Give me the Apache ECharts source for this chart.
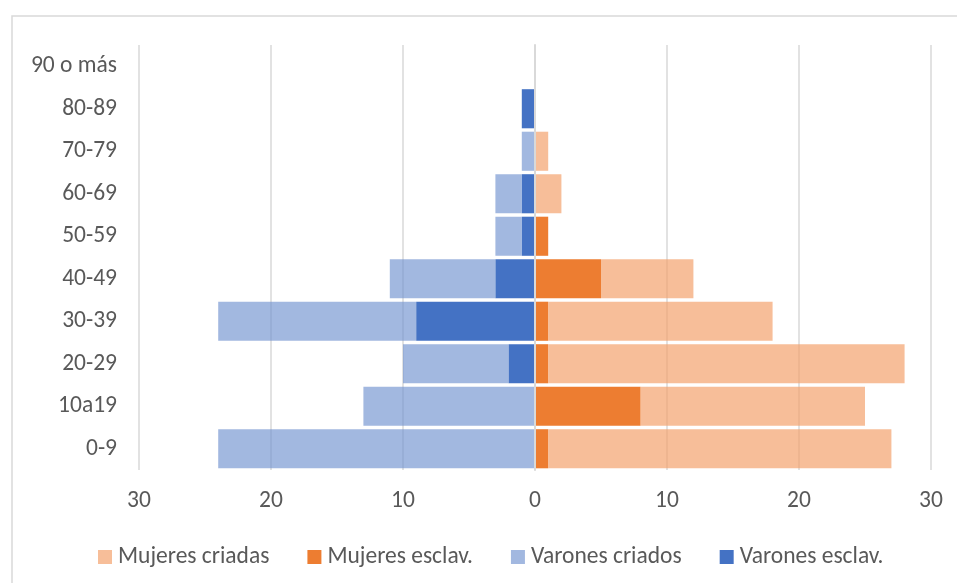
<!DOCTYPE html>
<html>
<head>
<meta charset="utf-8">
<title>Pirámide de edades</title>
<script src="https://cdn.jsdelivr.net/npm/echarts@6/dist/echarts.min.js"></script>
<style>
  html, body { margin: 0; padding: 0; background: #fff; }
  #chart { width: 957px; height: 583px; }
</style>
</head>
<body>
<div id="chart"></div>
<script>
// Age groups, bottom to top
const ageGroups = ['0-9', '10a19', '20-29', '30-39', '40-49', '50-59', '60-69', '70-79', '80-89', '90 o más'];

// Women (drawn to the right)
const mujeresEsclav  = [1, 8, 1, 1, 5, 1, 0, 0, 0, 0];
const mujeresCriadas = [26, 17, 27, 17, 7, 0, 2, 1, 0, 0];

// Men (drawn to the left as negative values)
const varonesEsclav  = [0, 0, 2, 9, 3, 1, 1, 0, 1, 0];
const varonesCriados = [24, 13, 8, 15, 8, 2, 2, 1, 0, 0];

const axisMin = -30, axisMax = 30, axisStep = 10;

const FONT = 'Carlito, Lato, sans-serif';
const TEXT = '#595959';
const FS = 23.5;

const chart = echarts.init(document.getElementById('chart'), null, { renderer: 'canvas' });

function barSeries(name, values, color, sign) {
  return {
    name: name,
    type: 'bar',
    stack: 'pyramid',
    stackStrategy: 'samesign',
    barCategoryGap: '8%',
    data: values.map(v => sign * v),
    itemStyle: { color: color },
    emphasis: { disabled: true }
  };
}

chart.setOption({
  animation: false,
  backgroundColor: '#ffffff',
  textStyle: { fontFamily: FONT },
  graphic: [{
    type: 'rect',
    shape: { x: 12, y: 16, width: 1000, height: 1000 },
    style: { fill: 'none', stroke: '#D9D9D9', lineWidth: 1.5 },
    silent: true,
    z: -1
  }],
  grid: { left: 139, right: 26, top: 45, bottom: 113, containLabel: false },
  xAxis: {
    type: 'value',
    min: axisMin,
    max: axisMax,
    interval: axisStep,
    axisLine: { show: false },
    axisTick: { show: false },
    splitLine: { show: true, lineStyle: { color: '#D9D9D9', width: 1.5 } },
    axisLabel: {
      color: TEXT,
      fontFamily: FONT,
      fontSize: FS,
      margin: 19,
      formatter: v => String(Math.abs(v))
    }
  },
  yAxis: {
    type: 'category',
    data: ageGroups,
    z: 5,
    axisLine: { show: true, onZero: true, lineStyle: { color: '#D9D9D9', width: 2 } },
    axisTick: { show: false },
    axisLabel: {
      color: TEXT,
      fontFamily: FONT,
      fontSize: FS,
      margin: 22
    }
  },
  legend: {
    data: ['Mujeres criadas', 'Mujeres esclav.', 'Varones criados', 'Varones esclav.'],
    left: 93,
    top: 540,
    icon: 'rect',
    itemWidth: 14,
    itemHeight: 14,
    itemGap: 38,
    textStyle: { color: TEXT, fontFamily: FONT, fontSize: FS, padding: [0, 0, 0, 1] },
    selectedMode: false
  },
  series: [
    barSeries('Mujeres esclav.', mujeresEsclav, '#ED7D31', 1),
    barSeries('Mujeres criadas', mujeresCriadas, 'rgba(243,162,109,0.7)', 1),
    barSeries('Varones esclav.', varonesEsclav, '#4472C4', -1),
    barSeries('Varones criados', varonesCriados, 'rgba(114,147,208,0.66)', -1)
  ]
});
</script>
</body>
</html>
